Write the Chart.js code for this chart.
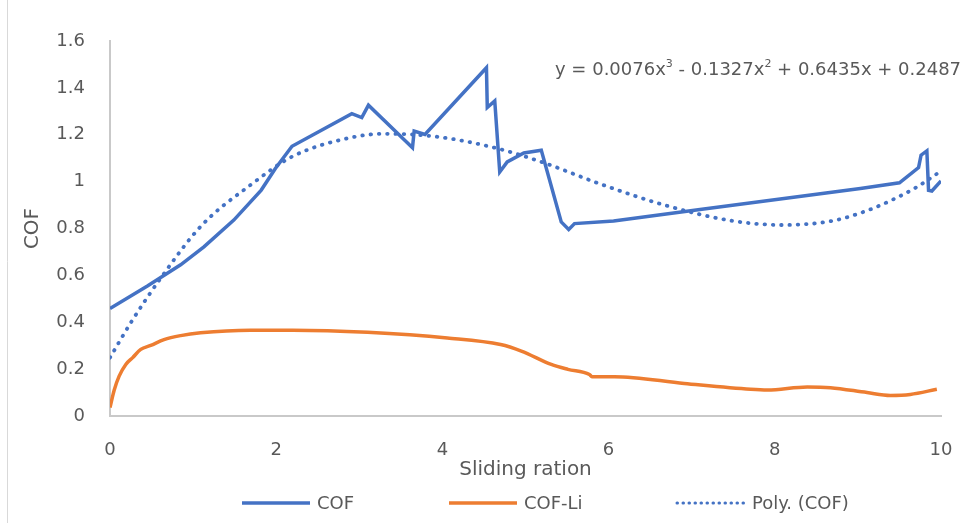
<!DOCTYPE html>
<html>
<head>
<meta charset="utf-8">
<title>COF vs Sliding ration</title>
<script src="https://cdn.jsdelivr.net/npm/chart.js@4/dist/chart.umd.min.js"></script>
<style>
  html, body { margin: 0; padding: 0; background: #ffffff; }
  #wrap { width: 979px; height: 523px; position: relative; }
</style>
</head>
<body>
<div id="wrap"><canvas id="c" width="979" height="523"></canvas></div>
<script>
// Measured friction coefficient (COF) against sliding ration
const cofX = [0, 0.45, 0.85, 1.13, 1.49, 1.82, 1.99, 2.19, 2.91, 3.03, 3.11, 3.64, 3.66, 3.79,
              4.53, 4.54, 4.63, 4.69, 4.78, 4.98, 5.19, 5.43, 5.52, 5.59, 6.06, 7.10, 9.03,
              9.50, 9.73, 9.76, 9.83, 9.85, 9.89, 10.0];
const cofY = [0.459, 0.555, 0.645, 0.722, 0.836, 0.964, 1.056, 1.151, 1.290, 1.273, 1.326, 1.145, 1.216, 1.201,
              1.486, 1.316, 1.344, 1.041, 1.084, 1.122, 1.134, 0.828, 0.796, 0.821, 0.832, 0.881, 0.971,
              0.995, 1.060, 1.113, 1.131, 0.963, 0.960, 1.003];

// Friction coefficient with lithium (COF-Li)
const liX = [0, 0.05, 0.11, 0.19, 0.27, 0.37, 0.49, 0.65, 0.85, 1.09, 1.69, 2.2, 3.1, 4.06,
             4.7, 4.95, 5.31, 5.51, 5.77, 5.80, 6.07, 6.91, 7.71, 7.91, 8.39, 8.67, 9.11, 9.39, 9.63, 9.95];
const liY = [0.036, 0.110, 0.170, 0.220, 0.248, 0.284, 0.301, 0.326, 0.343, 0.355, 0.366, 0.366, 0.357, 0.333,
             0.305, 0.277, 0.220, 0.199, 0.177, 0.168, 0.168, 0.139, 0.114, 0.111, 0.124, 0.121, 0.100, 0.088, 0.092, 0.114];

// Third-order polynomial trend of COF
const polyX = [0, 0.25, 0.6, 1.1, 1.7, 2.2, 2.9, 3.3, 3.9, 4.6, 5.2, 5.9, 6.7, 7.5, 8.1, 8.7, 9.1, 9.4, 9.7, 10];
const polyY = [0.249, 0.398, 0.583, 0.812, 0.988, 1.108, 1.188, 1.204, 1.193, 1.147, 1.083, 0.990, 0.897, 0.832,
               0.815, 0.833, 0.875, 0.920, 0.975, 1.045];
const trendCoefs = [0.0076, -0.1327, 0.6435, 0.2487];

const xTickLabels = ['0', '2', '4', '6', '8', '10'];
const yTickLabels = ['0', '0.2', '0.4', '0.6', '0.8', '1', '1.2', '1.4', '1.6'];

const seriesNames = ['COF', 'COF-Li', 'Poly. (COF)'];
const xTitle = 'Sliding ration';
const yTitle = 'COF';

const BLUE = '#4472C4';
const ORANGE = '#ED7D31';
const TEXT = '#595959';
const AXIS = '#C9C9C9';
const FONT = '"DejaVu Sans", "Liberation Sans", sans-serif';

const pts = (xs, ys) => xs.map((x, i) => ({ x: x, y: ys[i] }));

function equationText(c) {
  const fmt = v => Math.abs(v).toString();
  const sign = v => (v < 0 ? ' - ' : ' + ');
  return [
    { t: 'y = ' + fmt(c[0]) + 'x', sup: false },
    { t: '3', sup: true },
    { t: sign(c[1]) + fmt(c[1]) + 'x', sup: false },
    { t: '2', sup: true },
    { t: sign(c[2]) + fmt(c[2]) + 'x' + sign(c[3]) + fmt(c[3]), sup: false }
  ];
}

// Legend, axis titles, trend equation and frame
const decorations = {
  id: 'decorations',
  afterDraw(chart) {
    const ctx = chart.ctx;
    const area = chart.chartArea;
    ctx.save();

    // outer frame edge
    ctx.strokeStyle = '#D9D9D9';
    ctx.lineWidth = 1;
    ctx.beginPath();
    ctx.moveTo(7.5, 0);
    ctx.lineTo(7.5, 523);
    ctx.stroke();

    ctx.fillStyle = TEXT;
    ctx.textBaseline = 'middle';

    // x axis title
    ctx.font = '20px ' + FONT;
    ctx.textAlign = 'center';
    ctx.fillText(xTitle, (area.left + area.right) / 2, 470);

    // y axis title
    ctx.save();
    ctx.translate(33, (area.top + area.bottom) / 2);
    ctx.rotate(-Math.PI / 2);
    ctx.fillText(yTitle, 0, 0);
    ctx.restore();

    // trend equation
    ctx.textAlign = 'left';
    ctx.textBaseline = 'alphabetic';
    let ex = 555;
    const ey = 75;
    equationText(trendCoefs).forEach(seg => {
      ctx.font = (seg.sup ? '11px ' : '18px ') + FONT;
      const yy = seg.sup ? ey - 8 : ey;
      ctx.fillText(seg.t, ex, yy);
      ex += ctx.measureText(seg.t).width;
    });

    // legend
    const ly = 503;
    const items = [
      { x: 242, color: BLUE, dash: [] },
      { x: 449, color: ORANGE, dash: [] },
      { x: 677, color: BLUE, dash: [0.5, 5.5] }
    ];
    ctx.font = '18px ' + FONT;
    ctx.textBaseline = 'middle';
    items.forEach((it, i) => {
      ctx.strokeStyle = it.color;
      ctx.lineWidth = it.dash.length ? 3 : 3.5;
      ctx.lineCap = it.dash.length ? 'round' : 'butt';
      ctx.setLineDash(it.dash);
      ctx.beginPath();
      ctx.moveTo(it.x, ly);
      ctx.lineTo(it.x + 68, ly);
      ctx.stroke();
      ctx.setLineDash([]);
      ctx.fillStyle = TEXT;
      ctx.fillText(seriesNames[i], it.x + 75, ly + 1);
    });
    ctx.restore();
  }
};

new Chart(document.getElementById('c'), {
  type: 'line',
  data: {
    datasets: [
      {
        label: seriesNames[0],
        data: pts(cofX, cofY),
        borderColor: BLUE,
        borderWidth: 3.5,
        pointRadius: 0,
        tension: 0,
        borderJoinStyle: 'miter',
        order: 1
      },
      {
        label: seriesNames[1],
        data: pts(liX, liY),
        borderColor: ORANGE,
        borderWidth: 3.5,
        pointRadius: 0,
        cubicInterpolationMode: 'monotone',
        order: 2
      },
      {
        label: seriesNames[2],
        data: pts(polyX, polyY),
        borderColor: BLUE,
        borderWidth: 3.8,
        borderDash: [0.5, 7.8],
        borderCapStyle: 'round',
        pointRadius: 0,
        cubicInterpolationMode: 'monotone',
        order: 0
      }
    ]
  },
  options: {
    responsive: false,
    animation: false,
    events: [],
    layout: { padding: { left: 0, right: 38, top: 41, bottom: 0 } },
    plugins: { legend: { display: false }, tooltip: { enabled: false } },
    scales: {
      x: {
        type: 'linear',
        min: 0,
        max: 10,
        grid: { display: false },
        border: { display: true, color: AXIS, width: 2 },
        ticks: {
          stepSize: 2,
          padding: 16,
          color: TEXT,
          font: { family: FONT, size: 18 },
          maxRotation: 0,
          callback: (v, i) => xTickLabels[i]
        },
        afterFit: s => { s.height = 107; }
      },
      y: {
        min: 0,
        max: 1.6,
        grid: { display: false },
        border: { display: true, color: AXIS, width: 2 },
        ticks: {
          stepSize: 0.2,
          padding: 17,
          color: TEXT,
          font: { family: FONT, size: 18 },
          callback: (v, i) => yTickLabels[i]
        },
        afterFit: s => { s.width = 110; }
      }
    }
  },
  plugins: [decorations]
});
</script>
</body>
</html>
